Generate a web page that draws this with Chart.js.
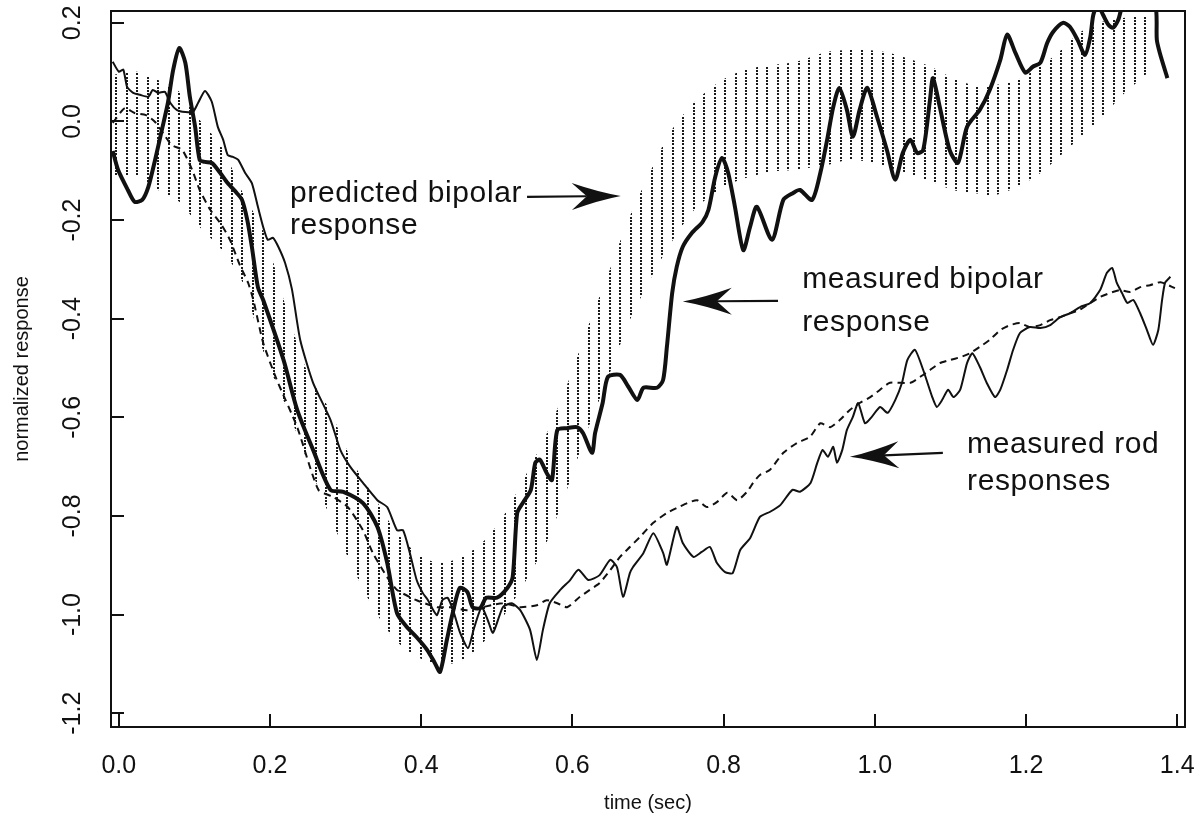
<!DOCTYPE html>
<html>
<head>
<meta charset="utf-8">
<script src="https://cdn.jsdelivr.net/npm/chart.js@4.4.1/dist/chart.umd.min.js"></script>
<style>
html,body{margin:0;padding:0;background:#fff;}
#wrap{width:1198px;height:834px;position:relative;}
</style>
</head>
<body>
<div id="wrap"><canvas id="c" width="1198" height="834"></canvas></div>
<script>
// ---------------- data ----------------
const xTickValues = [0.0, 0.2, 0.4, 0.6, 0.8, 1.0, 1.2, 1.4];
const yTickValues = [-1.2, -1.0, -0.8, -0.6, -0.4, -0.2, 0.0, 0.2];

// measured bipolar response (thick line)
const bipolarT = [-0.008,-0.001,0.012,0.021,0.031,0.039,0.048,0.057,0.065,0.072,0.080,0.088,0.094,0.101,0.107,0.114,0.123,0.134,0.144,0.156,0.163,0.170,0.176,0.184,0.191,0.218,0.236,0.257,0.280,0.297,0.323,0.342,0.355,0.368,0.381,0.394,0.408,0.418,0.425,0.434,0.442,0.451,0.461,0.468,0.478,0.486,0.500,0.514,0.521,0.527,0.535,0.545,0.551,0.557,0.566,0.573,0.580,0.593,0.606,0.614,0.626,0.630,0.640,0.647,0.663,0.674,0.686,0.694,0.712,0.720,0.725,0.732,0.738,0.746,0.758,0.772,0.780,0.789,0.798,0.806,0.815,0.826,0.835,0.844,0.864,0.879,0.892,0.901,0.917,0.928,0.937,0.945,0.953,0.963,0.971,0.980,0.990,1.003,1.016,1.027,1.037,1.047,1.056,1.064,1.073,1.077,1.086,1.099,1.110,1.122,1.139,1.152,1.166,1.175,1.186,1.199,1.209,1.219,1.228,1.236,1.249,1.258,1.268,1.278,1.285,1.289,1.295,1.302,1.309,1.315,1.322,1.327,1.351,1.371,1.373,1.377,1.387];
const bipolarV = [-0.060,-0.098,-0.139,-0.163,-0.159,-0.133,-0.078,-0.017,0.038,0.105,0.149,0.119,0.050,-0.011,-0.078,-0.082,-0.084,-0.104,-0.125,-0.145,-0.159,-0.200,-0.254,-0.336,-0.362,-0.484,-0.585,-0.666,-0.747,-0.751,-0.774,-0.822,-0.895,-0.997,-1.025,-1.046,-1.072,-1.098,-1.116,-1.051,-0.995,-0.946,-0.954,-0.985,-0.987,-0.966,-0.966,-0.946,-0.924,-0.794,-0.772,-0.747,-0.692,-0.686,-0.713,-0.727,-0.626,-0.622,-0.620,-0.632,-0.672,-0.632,-0.571,-0.518,-0.514,-0.538,-0.565,-0.540,-0.540,-0.524,-0.457,-0.348,-0.295,-0.254,-0.226,-0.204,-0.179,-0.112,-0.074,-0.104,-0.173,-0.261,-0.214,-0.173,-0.240,-0.159,-0.145,-0.139,-0.159,-0.104,-0.037,0.029,0.068,0.024,-0.031,0.024,0.068,0.009,-0.058,-0.118,-0.064,-0.037,-0.064,-0.058,0.044,0.088,0.029,-0.058,-0.084,-0.011,0.024,0.064,0.125,0.176,0.139,0.099,0.111,0.119,0.159,0.182,0.200,0.192,0.166,0.135,0.171,0.216,0.236,0.216,0.196,0.190,0.206,0.230,0.270,0.236,0.166,0.139,0.088];

// measured rod response (thin solid line)
const rodSolidT = [-0.008,0.000,0.006,0.011,0.019,0.028,0.039,0.045,0.052,0.061,0.068,0.077,0.088,0.098,0.105,0.114,0.123,0.131,0.138,0.144,0.151,0.158,0.167,0.176,0.184,0.191,0.197,0.204,0.211,0.220,0.229,0.240,0.257,0.280,0.293,0.306,0.323,0.342,0.355,0.368,0.376,0.385,0.394,0.402,0.409,0.416,0.421,0.428,0.435,0.443,0.451,0.462,0.470,0.480,0.488,0.495,0.508,0.520,0.531,0.544,0.553,0.561,0.570,0.584,0.597,0.608,0.621,0.636,0.650,0.659,0.667,0.676,0.680,0.694,0.707,0.720,0.725,0.738,0.746,0.760,0.771,0.782,0.791,0.802,0.812,0.822,0.835,0.848,0.861,0.875,0.891,0.901,0.915,0.924,0.931,0.938,0.945,0.950,0.957,0.963,0.971,0.978,0.987,0.996,1.007,1.017,1.027,1.036,1.043,1.053,1.064,1.076,1.082,1.089,1.097,1.104,1.113,1.122,1.129,1.139,1.148,1.159,1.166,1.175,1.183,1.192,1.205,1.219,1.232,1.245,1.258,1.272,1.285,1.298,1.307,1.314,1.320,1.327,1.334,1.342,1.351,1.360,1.368,1.375,1.380,1.384,1.391];
const rodSolidV = [0.121,0.101,0.105,0.070,0.058,0.054,0.050,0.064,0.058,0.060,0.038,0.023,0.019,0.019,0.038,0.062,0.040,-0.011,-0.037,-0.068,-0.072,-0.078,-0.104,-0.125,-0.173,-0.214,-0.240,-0.236,-0.254,-0.287,-0.340,-0.443,-0.530,-0.605,-0.666,-0.700,-0.733,-0.768,-0.782,-0.829,-0.829,-0.875,-0.930,-0.956,-0.971,-0.991,-1.001,-0.971,-0.966,-0.995,-1.035,-1.068,-1.027,-0.985,-1.011,-1.037,-0.985,-0.977,-0.991,-1.031,-1.092,-1.031,-0.977,-0.950,-0.930,-0.909,-0.930,-0.920,-0.889,-0.904,-0.964,-0.916,-0.904,-0.875,-0.835,-0.875,-0.899,-0.822,-0.855,-0.883,-0.873,-0.863,-0.895,-0.914,-0.916,-0.869,-0.845,-0.802,-0.792,-0.778,-0.747,-0.751,-0.733,-0.692,-0.666,-0.680,-0.660,-0.692,-0.666,-0.626,-0.599,-0.571,-0.612,-0.599,-0.579,-0.591,-0.565,-0.530,-0.484,-0.463,-0.504,-0.559,-0.579,-0.565,-0.544,-0.559,-0.544,-0.490,-0.470,-0.498,-0.530,-0.559,-0.544,-0.504,-0.463,-0.429,-0.417,-0.419,-0.413,-0.397,-0.389,-0.376,-0.368,-0.342,-0.307,-0.297,-0.327,-0.348,-0.368,-0.362,-0.389,-0.423,-0.453,-0.423,-0.362,-0.327,-0.315];

// measured rod response (dashed line)
const rodDashedT = [-0.008,0.008,0.021,0.036,0.048,0.060,0.070,0.084,0.097,0.107,0.121,0.136,0.147,0.160,0.171,0.178,0.191,0.209,0.236,0.264,0.283,0.303,0.323,0.336,0.355,0.368,0.394,0.421,0.438,0.461,0.508,0.531,0.553,0.566,0.580,0.593,0.610,0.623,0.636,0.650,0.663,0.676,0.689,0.707,0.725,0.738,0.752,0.765,0.778,0.791,0.805,0.818,0.831,0.839,0.848,0.861,0.879,0.897,0.914,0.928,0.941,0.954,0.967,0.980,0.994,1.007,1.020,1.047,1.060,1.073,1.086,1.099,1.113,1.126,1.139,1.152,1.166,1.179,1.192,1.205,1.219,1.232,1.245,1.258,1.271,1.285,1.298,1.311,1.324,1.338,1.351,1.364,1.378,1.397];
const rodDashedV = [-0.003,0.027,0.017,0.013,-0.001,-0.027,-0.048,-0.058,-0.098,-0.139,-0.179,-0.210,-0.240,-0.291,-0.327,-0.362,-0.449,-0.524,-0.620,-0.747,-0.761,-0.782,-0.829,-0.875,-0.924,-0.950,-0.971,-0.985,-0.985,-0.991,-0.977,-0.985,-0.981,-0.971,-0.977,-0.985,-0.964,-0.950,-0.936,-0.910,-0.883,-0.863,-0.843,-0.814,-0.794,-0.784,-0.774,-0.768,-0.782,-0.772,-0.753,-0.768,-0.751,-0.733,-0.717,-0.707,-0.672,-0.652,-0.640,-0.612,-0.620,-0.605,-0.585,-0.571,-0.559,-0.544,-0.530,-0.530,-0.518,-0.504,-0.490,-0.484,-0.478,-0.470,-0.457,-0.443,-0.423,-0.413,-0.409,-0.417,-0.413,-0.403,-0.397,-0.389,-0.382,-0.368,-0.356,-0.348,-0.342,-0.346,-0.336,-0.332,-0.326,-0.338];

// predicted bipolar response (dotted band: upper and lower bounds)
const bandT    = [-0.005,0.024,0.052,0.080,0.107,0.136,0.164,0.192,0.222,0.250,0.279,0.308,0.336,0.365,0.394,0.422,0.451,0.480,0.508,0.535,0.564,0.592,0.619,0.647,0.674,0.703,0.729,0.758,0.785,0.812,0.840,0.868,0.896,0.937,0.965,0.991,1.020,1.049,1.077,1.103,1.130,1.159,1.188,1.216,1.242,1.271,1.301,1.328,1.355,1.368];
const bandHigh = [0.095,0.101,0.084,0.060,0.003,-0.052,-0.145,-0.226,-0.381,-0.510,-0.585,-0.687,-0.757,-0.828,-0.875,-0.895,-0.885,-0.855,-0.802,-0.727,-0.640,-0.538,-0.423,-0.311,-0.200,-0.102,-0.023,0.034,0.070,0.095,0.109,0.115,0.121,0.141,0.145,0.145,0.139,0.125,0.109,0.088,0.074,0.074,0.084,0.109,0.139,0.180,0.202,0.210,0.214,0.216];
const bandLow  = [-0.112,-0.112,-0.139,-0.163,-0.214,-0.260,-0.327,-0.470,-0.580,-0.690,-0.800,-0.900,-0.985,-1.050,-1.085,-1.100,-1.095,-1.060,-1.005,-0.940,-0.860,-0.750,-0.630,-0.520,-0.410,-0.320,-0.250,-0.185,-0.148,-0.124,-0.110,-0.101,-0.098,-0.088,-0.078,-0.082,-0.094,-0.108,-0.123,-0.139,-0.145,-0.149,-0.133,-0.108,-0.074,-0.033,0.009,0.054,0.090,0.111];

// text labels and arrows (in data coordinates)
const noteTexts = [
  {t: 0.2265, v: -0.163, text: 'predicted bipolar'},
  {t: 0.2265, v: -0.228, text: 'response'},
  {t: 0.904,  v: -0.338, text: 'measured bipolar'},
  {t: 0.904,  v: -0.425, text: 'response'},
  {t: 1.122,  v: -0.672, text: 'measured rod'},
  {t: 1.122,  v: -0.747, text: 'responses'}
];
const noteArrows = [
  {fromT: 0.540, fromV: -0.153, toT: 0.664, toV: -0.151},
  {fromT: 0.872, fromV: -0.364, toT: 0.746, toV: -0.365},
  {fromT: 1.090, fromV: -0.672, toT: 0.967, toV: -0.680}
];

// ---------------- rendering ----------------
const FONT = "'Liberation Sans', Arial, Helvetica, sans-serif";
const INK = '#111';
const pts = (ts, vs) => ts.map((t, i) => ({x: t, y: vs[i]}));

function dotPattern() {
  const c = document.createElement('canvas');
  c.width = 21; c.height = 10;
  const g = c.getContext('2d');
  g.fillStyle = '#1a1a1a';
  [0, 10].forEach(x => [0, 3, 7].forEach(y => g.fillRect(x, y, 2, 2)));
  return g.createPattern(c, 'repeat');
}

function drawArrow(ctx, x0, y0, x1, y1) {
  const dx = x1 - x0, dy = y1 - y0;
  const len = Math.hypot(dx, dy);
  const ux = dx / len, uy = dy / len, px = -uy, py = ux;
  const headLen = 49, halfW = 13.5, notch = 34;
  const bx = x1 - ux * headLen, by = y1 - uy * headLen;
  const nx = x1 - ux * notch, ny = y1 - uy * notch;
  ctx.beginPath();
  ctx.moveTo(x0, y0);
  ctx.lineTo(nx, ny);
  ctx.lineWidth = 2.2;
  ctx.stroke();
  ctx.beginPath();
  ctx.moveTo(x1, y1);
  ctx.quadraticCurveTo(x1 - ux * 22 + px * 4, y1 - uy * 22 + py * 4, bx + px * halfW, by + py * halfW);
  ctx.lineTo(nx, ny);
  ctx.lineTo(bx - px * halfW, by - py * halfW);
  ctx.quadraticCurveTo(x1 - ux * 22 - px * 4, y1 - uy * 22 - py * 4, x1, y1);
  ctx.closePath();
  ctx.fill();
}

const decorPlugin = {
  id: 'decor',
  afterDatasetsDraw(chart) {
    const {ctx, chartArea: a, scales: {x, y}} = chart;
    ctx.save();
    ctx.strokeStyle = INK;
    ctx.lineWidth = 2;
    ctx.strokeRect(a.left, a.top, a.right - a.left, a.bottom - a.top);
    ctx.beginPath();
    x.ticks.forEach(tk => {
      const p = Math.round(x.getPixelForValue(tk.value));
      ctx.moveTo(p, a.bottom); ctx.lineTo(p, a.bottom - 13);
    });
    y.ticks.forEach(tk => {
      const p = Math.round(y.getPixelForValue(tk.value));
      ctx.moveTo(a.left, p); ctx.lineTo(a.left + 13, p);
    });
    ctx.stroke();

    ctx.fillStyle = INK;
    ctx.font = '30px ' + FONT;
    ctx.textBaseline = 'alphabetic';
    ctx.textAlign = 'left';
    if ('letterSpacing' in ctx) ctx.letterSpacing = '0.6px';
    noteTexts.forEach(n => ctx.fillText(n.text, x.getPixelForValue(n.t), y.getPixelForValue(n.v)));
    if ('letterSpacing' in ctx) ctx.letterSpacing = '0px';
    ctx.strokeStyle = INK;
    noteArrows.forEach(n => drawArrow(ctx,
      x.getPixelForValue(n.fromT), y.getPixelForValue(n.fromV),
      x.getPixelForValue(n.toT), y.getPixelForValue(n.toV)));
    ctx.restore();
  }
};

const pattern = dotPattern();

new Chart(document.getElementById('c'), {
  type: 'line',
  data: {
    datasets: [
      {label: 'measured bipolar response', data: pts(bipolarT, bipolarV), borderColor: INK, borderWidth: 4, pointRadius: 0, tension: 0.25, fill: false, clip: 0},
      {label: 'measured rod response (solid)', data: pts(rodSolidT, rodSolidV), borderColor: INK, borderWidth: 2, pointRadius: 0, tension: 0.2, fill: false, clip: 0},
      {label: 'measured rod response (dashed)', data: pts(rodDashedT, rodDashedV), borderColor: INK, borderWidth: 2, borderDash: [7, 5], pointRadius: 0, tension: 0.2, fill: false, clip: 0},
      {label: 'predicted bipolar response (upper)', data: pts(bandT, bandHigh), borderWidth: 0, borderColor: 'rgba(0,0,0,0)', backgroundColor: pattern, pointRadius: 0, tension: 0.3, fill: '+1', clip: 0},
      {label: 'predicted bipolar response (lower)', data: pts(bandT, bandLow), borderWidth: 0, borderColor: 'rgba(0,0,0,0)', pointRadius: 0, tension: 0.3, fill: false, clip: 0}
    ]
  },
  options: {
    responsive: false,
    devicePixelRatio: 1,
    animation: false,
    events: [],
    layout: {padding: {left: 0, right: 13, top: 11, bottom: 0}},
    plugins: {legend: {display: false}, tooltip: {enabled: false}},
    scales: {
      x: {
        type: 'linear',
        min: -0.0103,
        max: 1.4103,
        afterBuildTicks: s => { s.ticks = xTickValues.map(v => ({value: v})); },
        afterFit: s => { s.height = 107; s.paddingLeft = 0; s.paddingRight = 0; },
        grid: {display: false, drawTicks: false},
        border: {display: false},
        ticks: {
          autoSkip: false, maxRotation: 0, minRotation: 0,
          padding: 24,
          color: INK,
          font: {family: FONT, size: 25},
          callback: v => Number(v).toFixed(1)
        },
        title: {display: true, text: 'time (sec)', color: INK, font: {family: FONT, size: 20}, padding: {top: 0, bottom: 19}}
      },
      y: {
        type: 'linear',
        min: -1.228,
        max: 0.224,
        afterBuildTicks: s => { s.ticks = yTickValues.map(v => ({value: v})); },
        afterFit: s => { s.width = 111; s.paddingTop = 0; s.paddingBottom = 0; },
        grid: {display: false, drawTicks: false},
        border: {display: false},
        ticks: {
          autoSkip: false, minRotation: 90, maxRotation: 90,
          crossAlign: 'center',
          padding: 16,
          color: INK,
          font: {family: FONT, size: 25},
          callback: v => Number(v).toFixed(1)
        },
        title: {display: true, text: 'normalized response', color: INK, font: {family: FONT, size: 20}, padding: {top: 10, bottom: 0}}
      }
    }
  },
  plugins: [decorPlugin]
});
</script>
</body>
</html>
